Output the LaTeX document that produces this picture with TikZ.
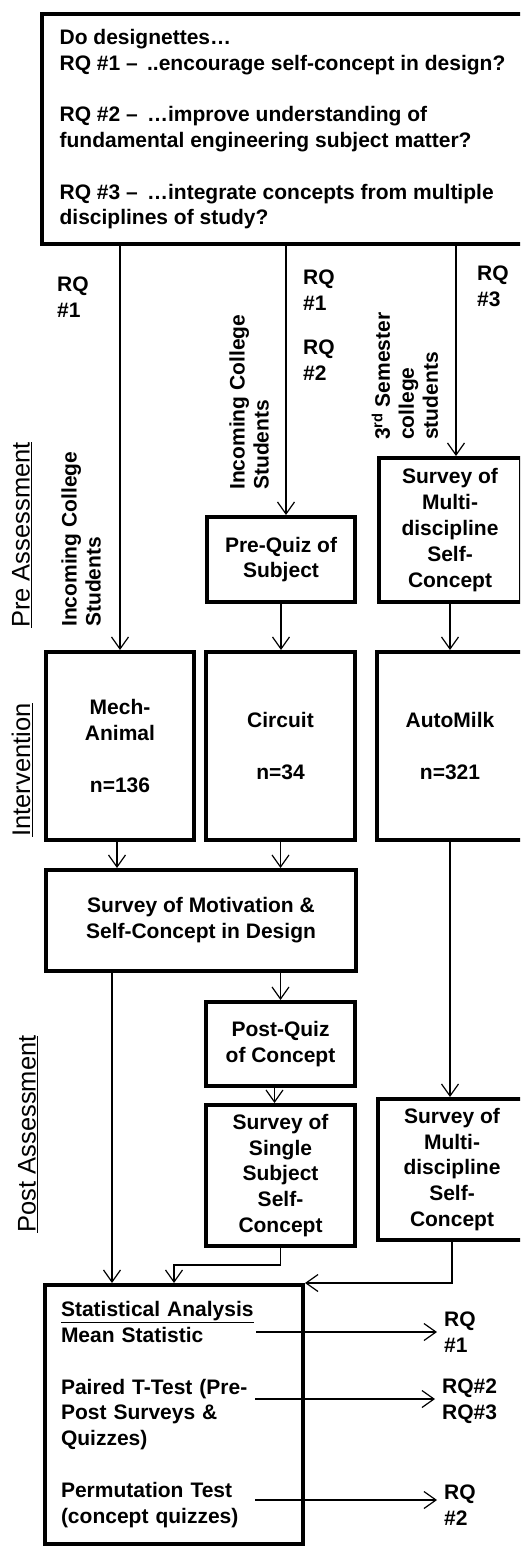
\documentclass[tikz,border=0pt]{standalone}
\usepackage{fontspec}
\setmainfont{Liberation Sans}
\usetikzlibrary{arrows.meta,positioning,calc}

\begin{document}
\begin{tikzpicture}[x=1pt, y=-1pt,
    box/.style={draw=black, line width=4pt, align=center, inner sep=0pt, font=\fontsize{21}{25.8}\selectfont\bfseries},
    arr/.style={-{Straight Barb[length=12pt, width=17pt]}, line width=1.2pt},
    phase/.style={rotate=90, inner sep=0pt, font=\fontsize{25.5}{30}\selectfont},
    group/.style={rotate=90, anchor=west, align=left, inner sep=0pt, font=\fontsize{21}{24}\selectfont\bfseries},
    rqlabel/.style={anchor=west, align=left, inner sep=0pt, font=\fontsize{21}{25.8}\selectfont\bfseries}
]
\useasboundingbox (0,0) rectangle (520,1548);
\clip (0,0) rectangle (520,1548);
% QUESTIONS
\node[box, anchor=north west, align=left, minimum width=481pt, inner xsep=16pt, inner ysep=15pt] (quest) at (40,12)
    {Do designettes…\\
     RQ \#1 –\ \,..encourage self-concept in design?\\[25.8pt]
     RQ \#2 –\ \,…improve understanding of\\
     fundamental engineering subject matter?\\[25.8pt]
     RQ \#3 –\ \,…integrate concepts from multiple\\
     disciplines of study?};
% phase labels
\node[phase] (pre) at (22,535) {\underline{Pre Assessment}};
\node[phase] (interv) at (22,770) {\underline{Intervention}};
\node[phase] (post) at (28,1134) {\underline{Post Assessment}};
% groups and research questions
\node[group] (grpa) at (81,627) {Incoming College\\Students};
\node[group] (grpb) at (249,490) {Incoming College\\Students};
\node[group] (grpc) at (405,440) {3\textsuperscript{rd} Semester\\college\\students};
\node[rqlabel] (rqa) at (57,297) {RQ\\\#1};
\node[rqlabel] (rqb) at (303,325) {RQ\\\#1\\[18pt]RQ\\\#2};
\node[rqlabel] (rqc) at (477,286) {RQ\\\#3};
% PRE ASSESSMENT
\node[box, minimum width=148pt, minimum height=85pt] (prequiz) at (281,559.5) {Pre-Quiz of\\Subject};
\node[box, minimum width=142pt, minimum height=144pt] (smulti) at (450,530) {Survey of\\Multi-\\discipline\\Self-\\Concept};
% INTERVENTION
\node[box, minimum width=148pt, minimum height=188pt] (mech) at (120,746) {Mech-\\Animal\\[25.8pt]n=136};
\node[box, minimum width=149pt, minimum height=188pt] (circuit) at (280.5,746) {Circuit\\[25.8pt]n=34};
\node[box, minimum width=146pt, minimum height=188pt] (automilk) at (450,746) {AutoMilk\\[25.8pt]n=321};
% POST ASSESSMENT
\node[box, minimum width=310pt, minimum height=101pt] (motiv) at (201,920.5) {Survey of Motivation \&\\Self-Concept in Design};
\node[box, minimum width=149pt, minimum height=84pt] (postquiz) at (280.5,1044) {Post-Quiz\\of Concept};
\node[box, minimum width=149pt, minimum height=141pt] (single) at (280.5,1175.5) {Survey of\\Single\\Subject\\Self-\\Concept};
\node[box, minimum width=148pt, minimum height=141pt] (pmulti) at (452,1169.5) {Survey of\\Multi-\\discipline\\Self-\\Concept};
% ANALYSIS
\node[box, minimum width=258pt, minimum height=259pt, align=left, text width=226pt] (stats) at (174,1414.5)
    {\underline{Statistical Analysis}\\
     Mean Statistic\\[25.8pt]
     Paired T-Test (Pre-\\
     Post Surveys \&\\
     Quizzes)\\[25.8pt]
     Permutation Test\\
     (concept quizzes)};
\coordinate (o1) at (256,1332);
\coordinate (o2) at (255,1399);
\coordinate (o3) at (255,1500);
\node[rqlabel, inner xsep=7pt] (rq1) at (437,1332) {RQ\\\#1};
\node[rqlabel, inner xsep=7pt] (rq23) at (435,1401) {RQ\#2\\RQ\#3};
\node[rqlabel, inner xsep=7pt] (rq2) at (437,1505) {RQ\\\#2};
% connectors
\draw[arr] (quest.south -| mech.north) -- (mech.north);
\draw[arr] ([xshift=5pt]quest.south -| prequiz.north) -- ([xshift=5pt]prequiz.north);
\draw[arr] ([xshift=6pt]quest.south -| smulti.north) -- ([xshift=6pt]smulti.north);
\draw[arr] (prequiz.south) -- (prequiz.south |- circuit.north);
\draw[arr] (smulti.south) -- (smulti.south |- automilk.north);
\draw[arr] ([xshift=-3pt]mech.south) -- ([xshift=-3pt]mech.south |- motiv.north);
\draw[arr] (circuit.south) -- (circuit.south |- motiv.north);
\draw[arr] (postquiz.north |- motiv.south) -- (postquiz.north);
\draw[arr] ([xshift=-6pt]postquiz.south) -- ([xshift=-6pt]single.north);
\draw[arr] (automilk.south) -- (automilk.south |- pmulti.north);
\draw[arr] ([xshift=-89pt]motiv.south) -- ([xshift=-89pt]motiv.south |- stats.north);
\draw[arr] (single.south) -- ++(0,17) -| (stats.north);
\draw[arr] (pmulti.south) |- (stats.north east);
\draw[arr] (o1) -- (o1 -| rq1.west);
\draw[arr] (o2) -- (o2 -| rq23.west);
\draw[arr] (o3) -- (o3 -| rq2.west);
\end{tikzpicture}
\end{document}
